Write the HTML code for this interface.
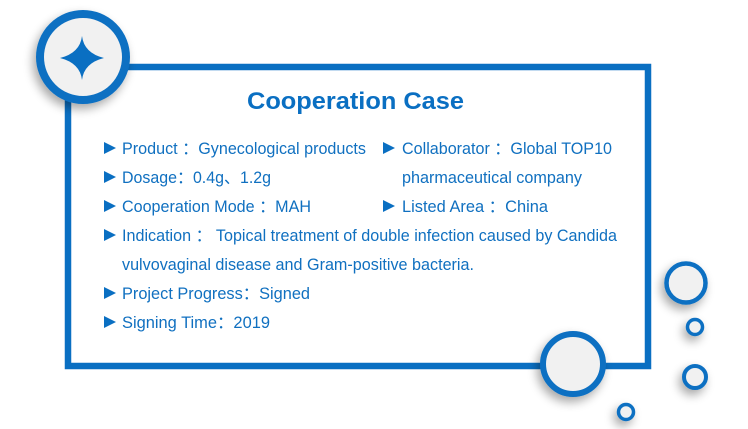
<!DOCTYPE html>
<html><head><style>html,body{margin:0;padding:0;background:#fff;}svg{display:block}</style></head>
<body>
<svg width="748" height="429" viewBox="0 0 748 429" xmlns="http://www.w3.org/2000/svg">
<defs>
<filter id="sh" x="-50%" y="-50%" width="200%" height="200%">
<feGaussianBlur in="SourceAlpha" stdDeviation="5"/>
<feOffset dx="-3" dy="5" result="b"/>
<feComponentTransfer><feFuncA type="linear" slope="0.35"/></feComponentTransfer>
<feMerge><feMergeNode/><feMergeNode in="SourceGraphic"/></feMerge>
</filter>
</defs>
<rect x="68" y="67" width="580" height="299" fill="none" stroke="#0a6fc2" stroke-width="6.5"/>
<g filter="url(#sh)">
<circle cx="83" cy="57" r="43" fill="#f1f1f1" stroke="#0a6fc2" stroke-width="8"/>
<circle cx="573" cy="364" r="30" fill="#f1f1f1" stroke="#0a6fc2" stroke-width="6"/>
<circle cx="686" cy="283" r="19.5" fill="#f1f1f1" stroke="#0a6fc2" stroke-width="4.5"/>
<circle cx="695" cy="327" r="7.5" fill="#f1f1f1" stroke="#0a6fc2" stroke-width="3.5"/>
<circle cx="695" cy="377" r="11" fill="#f1f1f1" stroke="#0a6fc2" stroke-width="4"/>
<circle cx="626" cy="412" r="7.5" fill="#f1f1f1" stroke="#0a6fc2" stroke-width="3.5"/>
</g>
<path d="M82 36 Q84 53 104 58 Q84 63 82 80 Q80 63 60 58 Q80 53 82 36 Z" fill="#0a6fc2"/>
<g fill="#0a6fc2">
<polygon points="104,142 116,148 104,154"/>
<polygon points="104,171 116,177 104,183"/>
<polygon points="104,200 116,206 104,212"/>
<polygon points="104,229 116,235 104,241"/>
<polygon points="104,287 116,293 104,299"/>
<polygon points="104,316 116,322 104,328"/>
<polygon points="383,142 395,148 383,154"/>
<polygon points="383,200 395,206 383,212"/>
</g>
<g font-family="Liberation Sans, Noto Sans CJK SC, sans-serif" fill="#1070c0" font-size="16.5">
<text x="247" y="109" font-size="24" font-weight="bold" textLength="217" lengthAdjust="spacingAndGlyphs" fill="#0a6fc2">Cooperation Case</text>
<text x="122" y="154" textLength="244" lengthAdjust="spacingAndGlyphs">Product ：Gynecological products</text>
<text x="402" y="154" textLength="210" lengthAdjust="spacingAndGlyphs">Collaborator ：Global TOP10</text>
<text x="402" y="183" textLength="180" lengthAdjust="spacingAndGlyphs">pharmaceutical company</text>
<text x="122" y="183" textLength="149" lengthAdjust="spacingAndGlyphs">Dosage：0.4g、1.2g</text>
<text x="122" y="212" textLength="189" lengthAdjust="spacingAndGlyphs">Cooperation Mode ：MAH</text>
<text x="402" y="212" textLength="146" lengthAdjust="spacingAndGlyphs">Listed Area ：China</text>
<text x="122" y="241" textLength="495" lengthAdjust="spacingAndGlyphs">Indication ： Topical treatment of double infection caused by Candida</text>
<text x="122" y="270" textLength="352" lengthAdjust="spacingAndGlyphs">vulvovaginal disease and Gram-positive bacteria.</text>
<text x="122" y="299" textLength="188" lengthAdjust="spacingAndGlyphs">Project Progress：Signed</text>
<text x="122" y="328" textLength="148" lengthAdjust="spacingAndGlyphs">Signing Time：2019</text>
</g>
</svg>
</body></html>
